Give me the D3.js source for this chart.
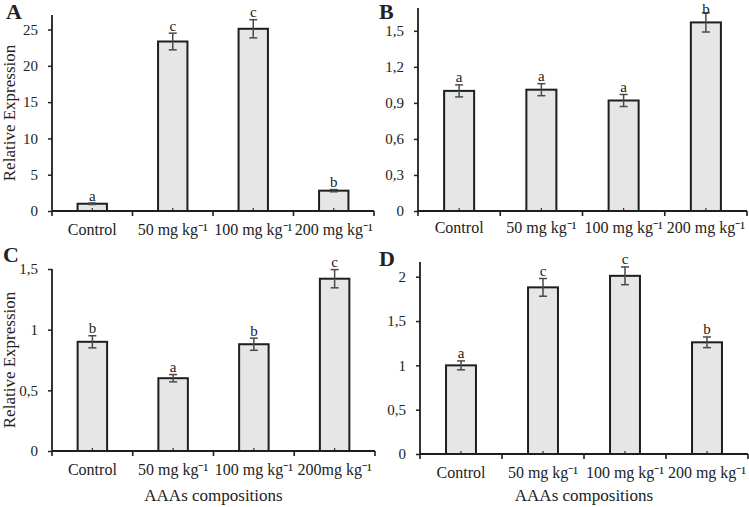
<!DOCTYPE html>
<html>
<head>
<meta charset="utf-8">
<script src="https://cdn.jsdelivr.net/npm/d3@7"></script>
<style>
  html, body { margin: 0; padding: 0; background: #fff; }
  svg { display: block; }
  text { font-family: "Liberation Serif", "Times New Roman", serif; fill: #222; }
</style>
</head>
<body>
<svg id="chart" width="749" height="507"></svg>
<script>
// ---- Data ----
const categoriesAB = ["Control", "50 mg kg\u207B\u00B9", "100 mg kg\u207B\u00B9", "200 mg kg\u207B\u00B9"];
const categoriesC  = ["Control", "50 mg kg\u207B\u00B9", "100 mg kg\u207B\u00B9", "200mg kg\u207B\u00B9"];
const categoriesD  = ["Control", "50 mg kg\u207B\u00B9", "100 mg kg\u207B\u00B9", "200 mg kg\u207B\u00B9"];

const valuesA = [1.0, 23.35, 25.1, 2.8];
const errorsA = [0.1, 1.15, 1.25, 0.15];
const lettersA = ["a", "c", "c", "b"];
const ticksA = [0, 5, 10, 15, 20, 25];

const valuesB = [1.0, 1.01, 0.92, 1.57];
const errorsB = [0.05, 0.05, 0.05, 0.08];
const lettersB = ["a", "a", "a", "b"];
const ticksB = [0, 0.3, 0.6, 0.9, 1.2, 1.5];

const valuesC = [0.9, 0.6, 0.88, 1.42];
const errorsC = [0.05, 0.03, 0.05, 0.075];
const lettersC = ["b", "a", "b", "c"];
const ticksC = [0, 0.5, 1, 1.5];

const valuesD = [1.0, 1.88, 2.01, 1.26];
const errorsD = [0.05, 0.1, 0.1, 0.06];
const lettersD = ["a", "c", "c", "b"];
const ticksD = [0, 0.5, 1, 1.5, 2];

const yLabel = "Relative Expression";
const xLabel = "AAAs compositions";

// ---- Layout ----
const panels = [
  { id: "A", cats: categoriesAB, vals: valuesA, errs: errorsA, letters: lettersA, ticks: ticksA,
    x0: 52, x1: 374, top: 15, base: 211, ymax: 27, letterPos: [6, 19], yLab: true, xLab: false, labOff: 13 },
  { id: "B", cats: categoriesAB, vals: valuesB, errs: errorsB, letters: lettersB, ticks: ticksB,
    x0: 418, x1: 747, top: 8, base: 211, ymax: 1.69, letterPos: [379, 19], yLab: false, xLab: false, labOff: 11 },
  { id: "C", cats: categoriesC, vals: valuesC, errs: errorsC, letters: lettersC, ticks: ticksC,
    x0: 52, x1: 375, top: 269, base: 451, ymax: 1.5, letterPos: [3, 262], yLab: true, xLab: true, labOff: 13 },
  { id: "D", cats: categoriesD, vals: valuesD, errs: errorsD, letters: lettersD, ticks: ticksD,
    x0: 420, x1: 748, top: 262, base: 454, ymax: 2.166, letterPos: [379, 266], yLab: false, xLab: true, labOff: 13 }
];

const svg = d3.select("#chart");
const fmt = v => String(v).replace(".", ",");
const FONT = '"Liberation Serif", "Times New Roman", serif';

panels.forEach(p => {
  const g = svg.append("g");
  const x = d3.scaleBand().domain(p.cats).range([p.x0, p.x1])
    .paddingInner(0.635).paddingOuter(0.3175);
  const y = d3.scaleLinear().domain([0, p.ymax]).range([p.base, p.top]);
  const step = x.step();

  // bars
  g.selectAll("rect.bar").data(p.vals).enter().append("rect")
    .attr("x", (d, i) => x(p.cats[i]))
    .attr("y", d => y(d))
    .attr("width", x.bandwidth())
    .attr("height", d => y(0) - y(d))
    .attr("fill", "#e6e6e6")
    .attr("stroke", "#1e1e1e")
    .attr("stroke-width", 2);

  // y axis
  const yAxis = d3.axisLeft(y).tickValues(p.ticks).tickFormat(fmt)
    .tickSizeInner(4).tickSizeOuter(0).tickPadding(10);
  const ya = g.append("g").attr("transform", `translate(${p.x0},0)`).call(yAxis);
  ya.select(".domain").remove();
  ya.selectAll(".tick line").attr("stroke", "#222").attr("stroke-width", 1.5);
  ya.selectAll(".tick text").style("font-size", "15px").attr("fill", "#222")
    .style("font-family", FONT);
  g.append("line").attr("x1", p.x0).attr("x2", p.x0).attr("y1", p.base + 1).attr("y2", p.top)
    .attr("stroke", "#1e1e1e").attr("stroke-width", 1.8);

  // x axis: labels + centre ticks pointing inward
  const xAxis = d3.axisBottom(x).tickSizeInner(-3).tickSizeOuter(0).tickPadding(p.labOff);
  const xa = g.append("g").attr("transform", `translate(0,${p.base})`).call(xAxis);
  xa.select(".domain").remove();
  xa.selectAll(".tick line").attr("stroke", "#333").attr("stroke-width", 1.2);
  xa.selectAll(".tick text").style("font-size", "16px").attr("fill", "#222")
    .style("font-family", FONT);
  g.append("line").attr("x1", p.x0).attr("x2", p.x1).attr("y1", p.base).attr("y2", p.base)
    .attr("stroke", "#1e1e1e").attr("stroke-width", 1.8);
  // category boundary ticks
  const bounds = d3.range(p.cats.length + 1).map(i => p.x0 + i * step);
  g.selectAll("line.bt").data(bounds).enter().append("line")
    .attr("x1", d => d).attr("x2", d => d).attr("y1", p.base).attr("y2", p.base + 5)
    .attr("stroke", "#1e1e1e").attr("stroke-width", 1.6);

  // error bars
  const cx = i => x(p.cats[i]) + x.bandwidth() / 2;
  const eg = g.append("g").attr("stroke", "#4a4a4a").attr("stroke-width", 1.5);
  p.vals.forEach((v, i) => {
    const e = p.errs[i];
    eg.append("line").attr("x1", cx(i)).attr("x2", cx(i)).attr("y1", y(v + e)).attr("y2", y(v - e));
    eg.append("line").attr("x1", cx(i) - 4).attr("x2", cx(i) + 4).attr("y1", y(v + e)).attr("y2", y(v + e));
    eg.append("line").attr("x1", cx(i) - 4).attr("x2", cx(i) + 4).attr("y1", y(v - e)).attr("y2", y(v - e));
  });

  // significance letters
  g.selectAll("text.sig").data(p.letters).enter().append("text")
    .attr("x", (d, i) => cx(i))
    .attr("y", (d, i) => Math.max(y(p.vals[i] + p.errs[i]) - 2.5, 14))
    .attr("text-anchor", "middle")
    .style("font-size", "15px")
    .text(d => d);

  // panel letter
  g.append("text").attr("x", p.letterPos[0]).attr("y", p.letterPos[1])
    .style("font-size", "22px").style("font-weight", "bold").text(p.id);

  if (p.yLab) {
    g.append("text")
      .attr("transform", `translate(15,${(p.top + p.base) / 2}) rotate(-90)`)
      .attr("text-anchor", "middle")
      .style("font-size", "17px")
      .text(yLabel);
  }
  if (p.xLab) {
    g.append("text")
      .attr("x", (p.x0 + p.x1) / 2).attr("y", 501)
      .attr("text-anchor", "middle")
      .style("font-size", "17px")
      .text(xLabel);
  }
});
</script>
</body>
</html>
